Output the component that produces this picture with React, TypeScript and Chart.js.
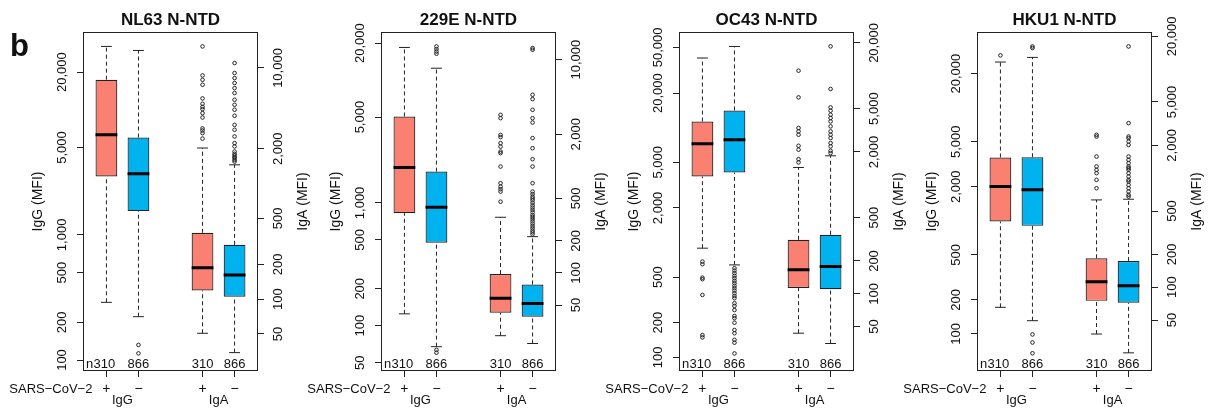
import React, { useEffect, useRef } from "react";
import { Chart, registerables } from "chart.js";

Chart.register(...registerables);

// ---------- categories & labels ----------
const PANEL_TITLES = ["NL63 N-NTD", "229E N-NTD", "OC43 N-NTD", "HKU1 N-NTD"];
const GROUP_LABELS = ["IgG", "IgA"];
const STATUS_LABELS = ["+", "\u2212", "+", "\u2212"];
const N_LABELS = ["310", "866", "310", "866"];
const BOX_POSITIONS = [1, 2, 4, 5];
const GROUP_CENTERS = [1.5, 4.5];
const X_LABEL = "SARS\u2212CoV\u22122";
const LEFT_TITLE = "IgG (MFI)";
const RIGHT_TITLE = "IgA (MFI)";
const PANEL_LETTER = "b";

// ---------- box statistics: [lower whisker, Q1, median, Q3, upper whisker] ----------
// order: IgG +, IgG −, IgA +, IgA −
const NL63_BOXES = [
  [289, 2930, 6310, 17400, 32100],
  [222, 1549, 3076, 6010, 29800],
  [50.7, 119, 187, 375, 2030],
  [34.5, 105, 162, 295, 1453],
];
const NL63_OUTLIERS = [
  [],
  [132, 113],
  [15360, 8620, 7900, 7160, 5450, 4900, 4600, 4400, 4070, 3730, 3000, 2880, 2735, 2450],
  [11030, 9040, 8180, 7410, 6700, 6070, 5310, 4800, 4350, 3860, 3220, 2920, 2555, 2240, 2094, 1893, 1808, 1750, 1700, 1660, 1600, 1550],
];

const E229_BOXES = [
  [125, 825, 1940, 5060, 18450],
  [67.5, 475, 924, 1800, 12500],
  [25.8, 42.4, 57.8, 97.7, 333],
  [21.8, 38.8, 51.8, 78, 219],
];
const E229_OUTLIERS = [
  [],
  [18800, 17900, 17100, 16400, 63.5, 60.3],
  [3040, 2830, 1970, 1880, 1650, 1530, 1375, 1330, 995, 695, 645, 610, 580, 466],
  [12850, 12400, 4690, 4270, 3390, 2830, 2575, 1840, 1480, 1167, 995, 695, 580, 550, 520, 500, 480, 455, 430, 410, 390, 370, 350, 335, 320, 305, 290, 275, 262, 250, 240, 230],
];

const OC43_BOXES = [
  [892, 3755, 7240, 11320, 40450],
  [638, 4070, 7840, 14130, 51000],
  [43.5, 113, 166, 313, 1442],
  [35, 110, 178, 348, 1846],
];
const OC43_OUTLIERS = [
  [682, 647, 494, 479, 349, 156, 149],
  [597, 569, 540, 512, 488, 463, 442, 419, 400, 381, 361, 342, 327, 296, 280, 258, 229, 219, 200, 173, 162, 142, 134, 108],
  [11140, 6340, 3320, 3090, 2880, 2280, 2100, 1720, 1605],
  [18630, 7570, 5130, 4785, 4395, 4100, 3815, 3435, 3090, 2880, 2685, 2415, 2250, 2052, 1955],
];

const HKU1_BOXES = [
  [172, 986, 2013, 3633, 25360],
  [131, 903, 1880, 3650, 27870],
  [37.2, 75, 112, 184, 632],
  [25, 72, 103, 174, 641],
];
const HKU1_OUTLIERS = [
  [29040],
  [34860, 33750, 99, 84, 67.5],
  [2500, 2410, 1580, 1280, 1192, 1112, 965, 809],
  [16160, 3200, 2410, 2330, 2170, 2020, 1580, 1473, 1374, 1280, 1236, 1192, 1112, 1035, 965, 931, 868, 809, 754, 703, 678],
];

const PANEL_BOXES = [NL63_BOXES, E229_BOXES, OC43_BOXES, HKU1_BOXES];
const PANEL_OUTLIERS = [NL63_OUTLIERS, E229_OUTLIERS, OC43_OUTLIERS, HKU1_OUTLIERS];

// ---------- axes ----------
const LEFT_TICKS = [
  [100, 200, 500, 1000, 5000, 20000],
  [50, 100, 200, 500, 1000, 5000, 20000],
  [100, 200, 500, 2000, 5000, 20000, 50000],
  [100, 200, 500, 2000, 5000, 20000],
];
const RIGHT_TICKS = [
  [50, 100, 200, 500, 2000, 10000],
  [50, 100, 200, 500, 2000, 10000],
  [50, 100, 200, 500, 2000, 5000, 20000],
  [50, 100, 200, 500, 2000, 5000, 20000],
];
const LEFT_RANGE = [
  [83.2, 41100],
  [43.6, 24200],
  [77.5, 66800],
  [48, 45800],
];
const RIGHT_RANGE = [
  [24.4, 20070],
  [12.3, 17800],
  [20, 24700],
  [17.4, 21470],
];
const X_RANGE = [0.3, 5.7];

// ---------- styles ----------
const FONT = '"Liberation Sans", Arial, Helvetica, sans-serif';
const FILLS = ["#FA8072", "#00B2EE"];
const EDGE = "#222222";
const TEXT = "#111111";
const BOX_WIDTH = 0.68;
const CANVAS_W = 320;
const CANVAS_H = 414;
const PANEL_STEP = 298;

Chart.defaults.font.family = FONT;

function buildDatasets(boxes: number[][], outliers: number[][]) {
  const datasets: any[] = [];
  const groups = [
    { idx: [0, 1], axis: "y" },
    { idx: [2, 3], axis: "y2" },
  ];
  for (const g of groups) {
    const bars = g.idx.map((i) => ({ x: BOX_POSITIONS[i], y: [boxes[i][1], boxes[i][3]] }));
    const med: any[] = [];
    const whisk: any[] = [];
    const staple: any[] = [];
    const out: any[] = [];
    g.idx.forEach((i, k) => {
      const x = BOX_POSITIONS[i];
      const [lo, q1, m, q3, hi] = boxes[i];
      if (k > 0) {
        med.push({ x: x - 0.5, y: null });
        whisk.push({ x: x - 0.5, y: null });
        staple.push({ x: x - 0.5, y: null });
      }
      med.push({ x: x - BOX_WIDTH / 2, y: m }, { x: x + BOX_WIDTH / 2, y: m });
      whisk.push({ x, y: lo }, { x, y: q1 }, { x, y: null }, { x, y: q3 }, { x, y: hi });
      staple.push(
        { x: x - BOX_WIDTH / 4, y: hi },
        { x: x + BOX_WIDTH / 4, y: hi },
        { x, y: null },
        { x: x - BOX_WIDTH / 4, y: lo },
        { x: x + BOX_WIDTH / 4, y: lo }
      );
      outliers[i].forEach((v) => out.push({ x, y: v }));
    });
    datasets.push({
      type: "bar",
      data: bars,
      yAxisID: g.axis,
      backgroundColor: g.idx.map((i) => FILLS[i % 2]),
      borderColor: EDGE,
      borderWidth: 1.2,
      borderSkipped: false,
      grouped: false,
      categoryPercentage: 1,
      barPercentage: BOX_WIDTH,
      order: 5,
    });
    datasets.push({
      type: "line",
      data: med,
      yAxisID: g.axis,
      borderColor: "#000000",
      borderWidth: 3,
      pointRadius: 0,
      fill: false,
      spanGaps: false,
      tension: 0,
      order: 0,
    });
    datasets.push({
      type: "line",
      data: whisk,
      yAxisID: g.axis,
      borderColor: EDGE,
      borderWidth: 1,
      borderDash: [4, 3],
      pointRadius: 0,
      fill: false,
      spanGaps: false,
      tension: 0,
      order: 3,
    });
    datasets.push({
      type: "line",
      data: staple,
      yAxisID: g.axis,
      borderColor: EDGE,
      borderWidth: 1,
      pointRadius: 0,
      fill: false,
      spanGaps: false,
      tension: 0,
      order: 2,
    });
    datasets.push({
      type: "scatter",
      data: out,
      yAxisID: g.axis,
      pointRadius: 1.8,
      pointBorderWidth: 1,
      pointBackgroundColor: "rgba(0,0,0,0)",
      pointBorderColor: EDGE,
      showLine: false,
      order: 1,
    });
  }
  return datasets;
}

function put(
  ctx: CanvasRenderingContext2D,
  s: string,
  x: number,
  y: number,
  size: number,
  opts: { bold?: boolean; align?: CanvasTextAlign; baseline?: CanvasTextBaseline; rot?: number } = {}
) {
  ctx.save();
  ctx.translate(x, y);
  if (opts.rot) ctx.rotate(opts.rot);
  ctx.font = `${opts.bold ? "bold " : ""}${size}px ${FONT}`;
  ctx.textAlign = opts.align || "center";
  ctx.textBaseline = opts.baseline || "alphabetic";
  ctx.fillStyle = TEXT;
  ctx.fillText(s, 0, 0);
  ctx.restore();
}

function fmt(v: number) {
  return v.toLocaleString("en-US");
}

function makeDecor(k: number) {
  return {
    id: "decor" + k,
    afterDraw(chart: any) {
      const ctx: CanvasRenderingContext2D = chart.ctx;
      const a = chart.chartArea;
      const xs = chart.scales.x;
      const ys = chart.scales.y;
      const y2s = chart.scales.y2;
      ctx.save();
      // frame
      const L = Math.round(a.left) - 0.5;
      const R = Math.round(a.right) + 0.5;
      const T = Math.round(a.top) - 0.5;
      const B = Math.round(a.bottom) + 0.5;
      ctx.strokeStyle = EDGE;
      ctx.lineWidth = 1;
      ctx.strokeRect(L, T, R - L, B - T);

      const midY = (a.top + a.bottom) / 2;
      // title
      put(ctx, PANEL_TITLES[k], (a.left + a.right) / 2, 25, 17, { bold: true });
      if (k === 0) put(ctx, PANEL_LETTER, 10, 56, 31, { bold: true, align: "left" });

      // left ticks
      LEFT_TICKS[k].forEach((v) => {
        put(ctx, fmt(v), a.left - 21.5, ys.getPixelForValue(v), 13, { rot: -Math.PI / 2, baseline: "middle" });
      });
      RIGHT_TICKS[k].forEach((v) => {
        put(ctx, fmt(v), a.right + 21, y2s.getPixelForValue(v), 13, { rot: -Math.PI / 2, baseline: "middle" });
      });
      put(ctx, LEFT_TITLE, a.left - 45.5, midY, 14, { rot: -Math.PI / 2, baseline: "middle" });
      put(ctx, RIGHT_TITLE, a.right + 46, midY, 14, { rot: -Math.PI / 2, baseline: "middle" });

      // n labels
      put(ctx, "n", a.left + 2, 368, 13, { align: "left" });
      BOX_POSITIONS.forEach((p, i) => {
        put(ctx, N_LABELS[i], xs.getPixelForValue(p) - (i === 0 ? 2 : 0), 368, 13);
        put(ctx, STATUS_LABELS[i], xs.getPixelForValue(p), 393, 14);
      });
      put(ctx, X_LABEL, xs.getPixelForValue(BOX_POSITIONS[0]) - 14, 393, 13, { align: "right" });
      GROUP_CENTERS.forEach((c, i) => {
        put(ctx, GROUP_LABELS[i], xs.getPixelForValue(c), 404, 13);
      });
      ctx.restore();
    },
  };
}

function makeConfig(k: number): any {
  const tickGrid = {
    display: true,
    drawOnChartArea: false,
    drawTicks: true,
    tickLength: 7,
    color: EDGE,
    lineWidth: 1,
    offset: false,
  };
  return {
    type: "scatter",
    data: { datasets: buildDatasets(PANEL_BOXES[k], PANEL_OUTLIERS[k]) },
    plugins: [makeDecor(k)],
    options: {
      responsive: false,
      animation: false,
      events: [],
      layout: { padding: { top: 33, left: 0, right: 0, bottom: 0 } },
      plugins: {
        legend: { display: false },
        tooltip: { enabled: false },
        title: { display: false },
      },
      scales: {
        x: {
          type: "linear",
          min: X_RANGE[0],
          max: X_RANGE[1],
          bounds: "data",
          offset: false,
          afterBuildTicks: (s: any) => {
            s.ticks = BOX_POSITIONS.map((v) => ({ value: v }));
          },
          afterFit: (s: any) => {
            s.height = 44;
          },
          ticks: { display: false },
          grid: tickGrid,
          border: { display: false },
        },
        y: {
          type: "logarithmic",
          position: "left",
          min: LEFT_RANGE[k][0],
          max: LEFT_RANGE[k][1],
          bounds: "data",
          offset: false,
          afterBuildTicks: (s: any) => {
            s.ticks = LEFT_TICKS[k].map((v) => ({ value: v }));
          },
          afterFit: (s: any) => {
            s.width = 84;
          },
          ticks: { display: false },
          grid: tickGrid,
          border: { display: false },
        },
        y2: {
          type: "logarithmic",
          position: "right",
          axis: "y",
          min: RIGHT_RANGE[k][0],
          max: RIGHT_RANGE[k][1],
          bounds: "data",
          offset: false,
          afterBuildTicks: (s: any) => {
            s.ticks = RIGHT_TICKS[k].map((v) => ({ value: v }));
          },
          afterFit: (s: any) => {
            s.width = 63;
          },
          ticks: { display: false },
          grid: tickGrid,
          border: { display: false },
        },
      },
    },
  };
}

function Panel({ idx }: { idx: number }) {
  const ref = useRef<HTMLCanvasElement | null>(null);
  useEffect(() => {
    if (!ref.current) return;
    const chart = new Chart(ref.current, makeConfig(idx));
    return () => chart.destroy();
  }, [idx]);
  return (
    <canvas
      ref={ref}
      width={CANVAS_W}
      height={CANVAS_H}
      style={{ position: "absolute", left: PANEL_STEP * idx, top: 0, width: CANVAS_W, height: CANVAS_H }}
    />
  );
}

export default function App() {
  return (
    <div style={{ position: "absolute", left: 0, top: 0, width: 1214, height: 414, background: "#ffffff" }}>
      {PANEL_TITLES.map((_, k) => (
        <Panel key={k} idx={k} />
      ))}
    </div>
  );
}
